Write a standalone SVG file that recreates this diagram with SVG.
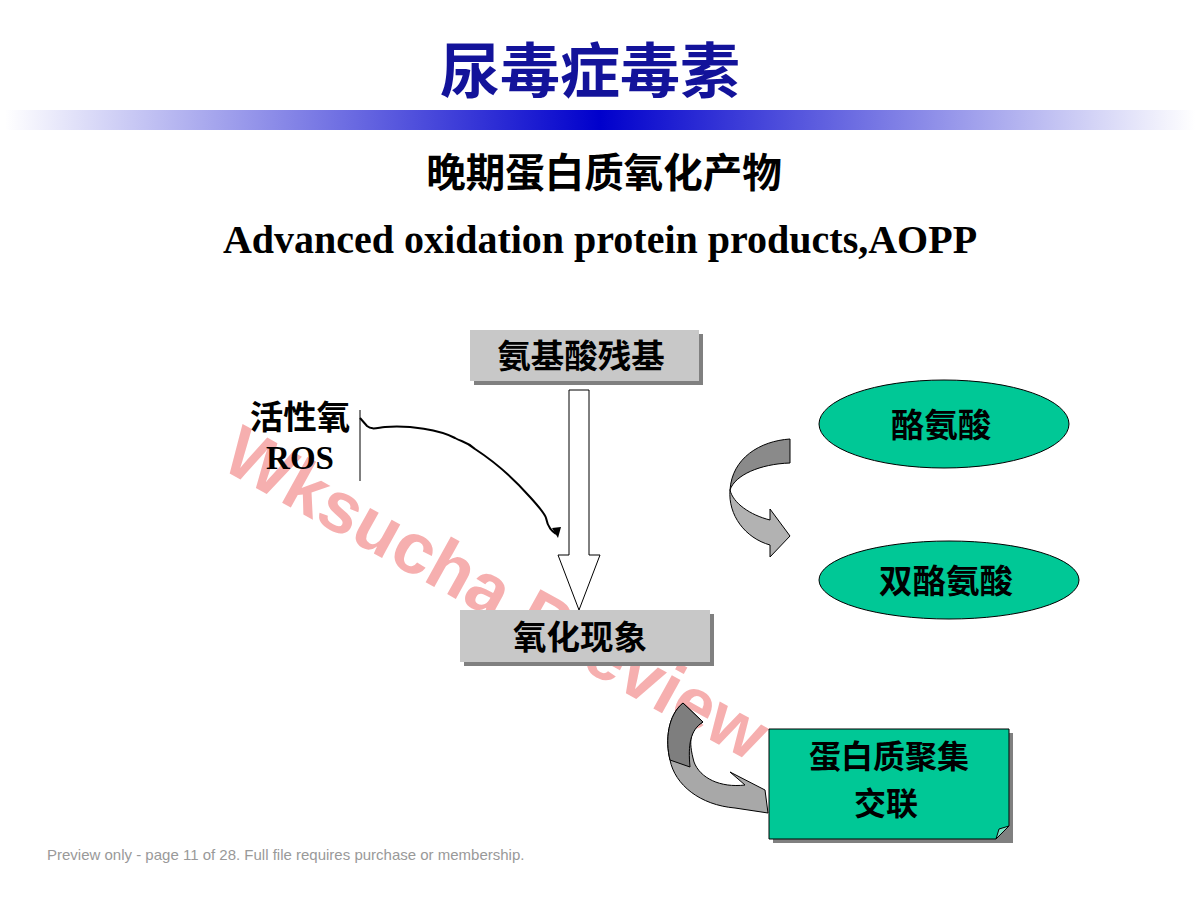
<svg xmlns="http://www.w3.org/2000/svg" width="1200" height="900" viewBox="0 0 1200 900">
<defs>
<linearGradient id="bar" x1="0" y1="0" x2="1" y2="0">
<stop offset="0" stop-color="#ffffff"/>
<stop offset="0.5" stop-color="#0000cc"/>
<stop offset="1" stop-color="#ffffff"/>
</linearGradient>
</defs>
<style>
.cjk{font-family:"Noto Sans CJK SC","Noto Sans",sans-serif;font-weight:bold;text-anchor:middle}
.serif{font-family:"Liberation Serif",serif;font-weight:bold;text-anchor:middle}
.gbox{fill:#c8c8c8}
.shadow{fill:#808080}
.green{fill:#00c896;stroke:#000;stroke-width:1}
.lbl{font-size:33.5px;fill:#000}
</style>
<rect width="1200" height="900" fill="#fff"/>
<text x="590" y="93" class="cjk" font-size="60" fill="#13139a">尿毒症毒素</text>
<rect x="5" y="110" width="1190" height="20" fill="url(#bar)"/>
<text x="604" y="187" class="cjk" font-size="39.5" fill="#000">晚期蛋白质氧化产物</text>
<text x="600" y="253" class="serif" font-size="40" fill="#000">Advanced oxidation protein products,AOPP</text>

<g id="watermark">
<text transform="translate(497,592) rotate(29)" y="26" font-family="Liberation Sans,sans-serif" font-weight="bold" font-size="72" text-anchor="middle" fill="#ee6060" fill-opacity="0.5">Wksucha Preview</text>
</g>

<g id="node-amino">
<rect x="474" y="334" width="229" height="51" class="shadow"/>
<rect x="470" y="330" width="229" height="51" class="gbox"/>
<text x="581" y="368" class="cjk lbl">氨基酸残基</text>
</g>

<g id="node-oxidation">
<rect x="464" y="614" width="250" height="52" class="shadow"/>
<rect x="460" y="610" width="250" height="52" class="gbox"/>
<text x="580" y="649" class="cjk lbl">氧化现象</text>
</g>

<g id="node-ros">
<text x="300" y="429" class="cjk lbl">活性氧</text>
<text x="300" y="469" class="serif" font-size="33" fill="#000">ROS</text>
<line x1="360" y1="410" x2="360" y2="481" stroke="#000" stroke-width="1"/>
</g>

<g id="node-tyr">
<ellipse cx="944" cy="424" rx="125" ry="44" class="green"/>
<text x="941" y="437" class="cjk lbl">酪氨酸</text>
</g>

<g id="node-dityr">
<ellipse cx="949" cy="580" rx="130" ry="39" class="green"/>
<text x="946" y="593" class="cjk lbl">双酪氨酸</text>
</g>

<g id="node-aggregate">
<path d="M773,733 H1013 V843 H773 Z" class="shadow"/>
<path d="M769,729 H1009 V826 L996,839 H769 Z" class="green"/>
<path d="M1009,826 L996,839 L999,829 Z" fill="#7de0c4" stroke="#000" stroke-width="1"/>
<text x="889" y="768" class="cjk" font-size="32" fill="#000">蛋白质聚集</text>
<text x="886" y="815" class="cjk" font-size="32" fill="#000">交联</text>
</g>

<g id="connectors">
<path d="M569,390 H589 V555 H600 L579,610 L558,555 H569 Z" fill="#fff" stroke="#000" stroke-width="1"/>
<path d="M360,418 L367,426 C372,430 376,428 385,427 C410,425 440,430 455,438 C462,442 466,441 475,449 C495,462 515,480 530,497 C540,508 545,514 546,518 C548,528 552,531 556,534" fill="none" stroke="#000" stroke-width="2"/>
<path d="M552,528 L561,527 L558,538 Z" fill="#000"/>
<path d="M790,439 C760,441 732,458 730,490 C735,475 760,464 790,463 Z" fill="#8a8a8a" stroke="#000" stroke-width="1"/>
<path d="M730,490 C728,515 745,538 770,545 L770,557 L790,536 L770,509 L770,520 C750,515 733,503 730,490 Z" fill="#b2b2b2" stroke="#000" stroke-width="1"/>
<path d="M683,703 C668,715 665,740 670,760 C675,785 700,805 735,808 L768,813 L765,790 L730,772 L745,785 C720,788 700,778 694,762 C688,740 690,730 703,722 Z" fill="#a8a8a8" stroke="#000" stroke-width="1"/>
<path d="M683,703 C668,715 665,740 670,760 L690,767 C688,745 690,730 703,722 Z" fill="#7e7e7e" stroke="#000" stroke-width="1"/>
</g>

<text x="47" y="860" font-family="Liberation Sans,sans-serif" font-size="15" fill="#999">Preview only - page 11 of 28. Full file requires purchase or membership.</text>
</svg>
